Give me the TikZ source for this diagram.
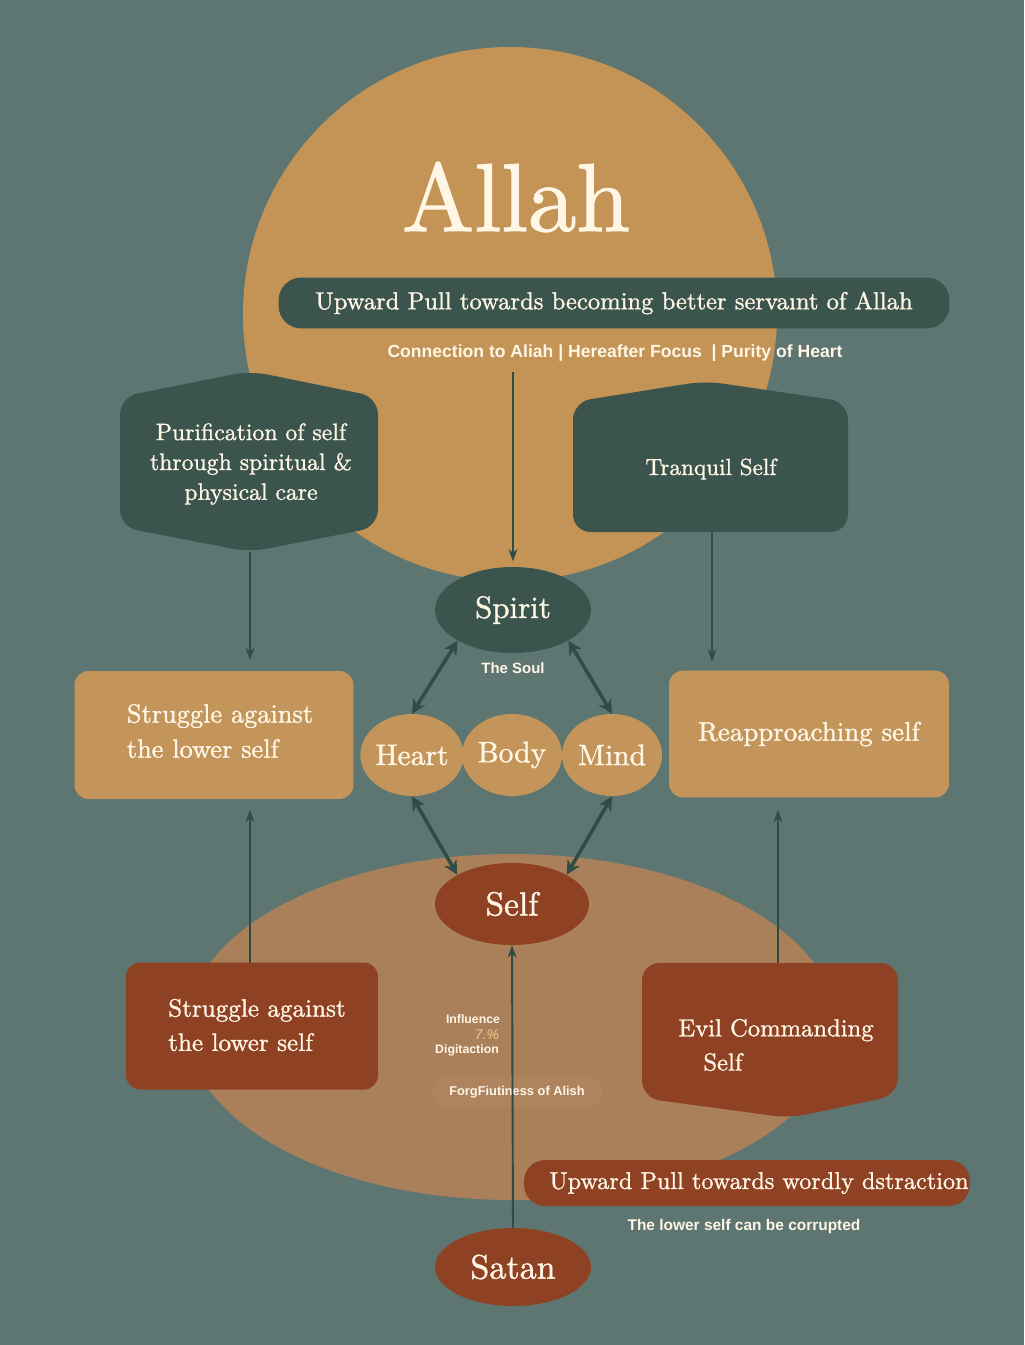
\documentclass[tikz,border=0pt]{standalone}
\usepackage{fontspec}
\usetikzlibrary{shapes.geometric,arrows.meta}
\setmainfont{lmroman10-regular.otf}[FakeBold=1.2]
\newfontfamily\labelfont{Liberation Sans}
\definecolor{bgcol}{HTML}{5E7671}
\definecolor{goldcol}{HTML}{C39455}
\definecolor{darkgreen}{HTML}{3B554E}
\definecolor{tancol}{HTML}{A98059}
\definecolor{rustcol}{HTML}{8F4124}
\definecolor{boxcol}{HTML}{C4955A}
\definecolor{pillcol}{HTML}{AE845E}
\definecolor{creamcol}{HTML}{FFF6E6}
\definecolor{linecol}{HTML}{314B45}
\definecolor{palegold}{HTML}{EBCB8E}
\tikzset{
  serif/.style={text=creamcol,font=\fontsize{14}{17}\selectfont},
  sans/.style={text=creamcol,font=\labelfont\bfseries\fontsize{9}{11}\selectfont},
  ovalnode/.style={ellipse,inner sep=0pt,text=creamcol},
  boxnode/.style={rectangle,rounded corners=8pt,inner sep=0pt,serif},
  thinarrow/.style={-{Stealth[length=7pt,width=5pt]},linecol,line width=1.1pt},
  dblarrow/.style={{Stealth[length=8pt,width=8pt]}-{Stealth[length=8pt,width=8pt]},linecol,line width=2pt},
}
\begin{document}
\begin{tikzpicture}[x=0.02cm,y=-0.02cm]
  \fill[bgcol] (0,0) rectangle (1024,1345);
  \useasboundingbox (0,0) rectangle (1024,1345);
  \fill[goldcol] (510,314) circle[radius=267];
  \fill[tancol] (512,1027) ellipse[x radius=325,y radius=173];

  \node[text=creamcol,font=\fontsize{55}{60}\selectfont] (allah) at (516,197) {Allah};
  \node[boxnode,fill=darkgreen,rounded corners=13pt,minimum width=13.42cm,minimum height=1.02cm] (upbanner) at (614,303) {Upward Pull towards becoming better servaınt of Allah};
  \node[sans,font=\labelfont\bfseries\fontsize{10}{12}\selectfont] (focus) at (615,353) {Connection to Aliah | Hereafter Focus \ | Purity of Heart};

  \fill[darkgreen,rounded corners=10pt] (250,371) -- (378,397) -- (378,527) -- (250,552) -- (120,527) -- (120,397) -- cycle;
  \node[serif,align=center,font=\fontsize{13.5}{17}\selectfont] (purif) at (251,464) {Purification of self\\through spiritual \&\\physical care};
  \fill[darkgreen,rounded corners=10pt] (705,381) -- (848,402) -- (848,532) -- (573,532) -- (573,402) -- cycle;
  \node[serif,font=\fontsize{13.2}{16}\selectfont] (tranq) at (711,469) {Tranquil Self};

  \node[ovalnode,fill=darkgreen,minimum width=3.12cm,minimum height=1.72cm,font=\fontsize{17.6}{21}\selectfont] (spirit) at (513,610) {Spirit};
  \node[sans,font=\labelfont\bfseries\fontsize{8.5}{10}\selectfont] (soul) at (513,668) {The Soul};
  \node[ovalnode,fill=boxcol,minimum width=2cm,minimum height=1.64cm,font=\fontsize{16.8}{20}\selectfont] (heart) at (412,755) {Heart};
  \node[ovalnode,fill=boxcol,minimum width=2cm,minimum height=1.64cm,font=\fontsize{16.8}{20}\selectfont] (body) at (512,755) {Body};
  \node[ovalnode,fill=boxcol,minimum width=2cm,minimum height=1.64cm,font=\fontsize{16.8}{20}\selectfont] (mind) at (612,755) {Mind};

  \node[boxnode,fill=boxcol,minimum width=5.58cm,minimum height=2.56cm] (struggleup) at (214,735) {};
  \node[serif,align=left,font=\fontsize{15}{20}\selectfont] (struggleuptext) at (220,731) {Struggle against\\the lower self};
  \node[boxnode,fill=boxcol,minimum width=5.6cm,minimum height=2.54cm,font=\fontsize{15.3}{18}\selectfont] (reapp) at (809,734) {Reapproaching self};

  \node[ovalnode,fill=rustcol,minimum width=3.08cm,minimum height=1.64cm,font=\fontsize{19}{22}\selectfont] (self) at (512,904) {Self};
  \node[boxnode,fill=rustcol,minimum width=5.04cm,minimum height=2.54cm] (struggledown) at (252,1026) {};
  \node[serif,align=left,font=\fontsize{14.3}{19.5}\selectfont] (struggledowntext) at (257,1025) {Struggle against\\the lower self};
  \fill[rustcol,rounded corners=10pt] (770,963) -- (898,963) -- (898,1095) -- (790,1118) -- (642,1098) -- (642,963) -- cycle;
  \node[serif,align=left,font=\fontsize{14}{19.5}\selectfont] (evil) at (776,1045) {Evil Commanding\\\hspace*{0.5cm}Self};

  \node[sans,font=\labelfont\bfseries\fontsize{7}{8}\selectfont] (infl) at (473,1019) {Influence};
  \node[text=palegold,font=\labelfont\itshape\fontsize{8}{9}\selectfont] (pct) at (487,1035) {7.\%};
  \node[sans,font=\labelfont\bfseries\fontsize{7}{8}\selectfont] (digit) at (467,1050) {Digitaction};
  \node[rectangle,rounded corners=8pt,fill=pillcol,minimum width=3.4cm,minimum height=0.58cm,inner sep=0pt,sans,font=\labelfont\bfseries\fontsize{7.3}{8}\selectfont] (forg) at (517,1092) {ForgFiutiness of Alish};

  \node[boxnode,fill=rustcol,rounded corners=12pt,minimum width=8.92cm,minimum height=0.92cm] (downbanner) at (747,1183) {};
  \node[serif,font=\fontsize{13.8}{16}\selectfont] (downtext) at (759,1183) {Upward Pull towards wordly dstraction};
  \node[sans,font=\labelfont\bfseries\fontsize{8.8}{10}\selectfont] (corrupt) at (744,1226) {The lower self can be corrupted};
  \node[ovalnode,fill=rustcol,minimum width=3.12cm,minimum height=1.56cm,font=\fontsize{19.4}{22}\selectfont] (satan) at (513,1267) {Satan};

  \coordinate (focusout) at (513,372);
  \coordinate (purifout) at (250,552);
  \coordinate (tranqout) at (712,532);
  \coordinate (sdtop) at (250,963);
  \coordinate (eviltop) at (778,963);
  \draw[thinarrow,shorten >=3pt] (focusout) -- (spirit.north);
  \draw[thinarrow,shorten >=6pt] (purifout) -- (purifout |- struggleup.north);
  \draw[thinarrow,shorten >=5pt] (tranqout) -- (tranqout |- reapp.north);
  \draw[thinarrow] (satan.north) -- (self.south);
  \draw[thinarrow,shorten >=6pt] (sdtop) -- (sdtop |- struggleup.south);
  \draw[thinarrow,shorten >=7pt] (eviltop) -- (eviltop |- reapp.south);
  \draw[dblarrow] (spirit.south west) -- (heart.north);
  \draw[dblarrow] (spirit.south east) -- (mind.north);
  \draw[dblarrow] (heart.south) -- (self.north west);
  \draw[dblarrow] (mind.south) -- (self.north east);
\end{tikzpicture}
\end{document}
